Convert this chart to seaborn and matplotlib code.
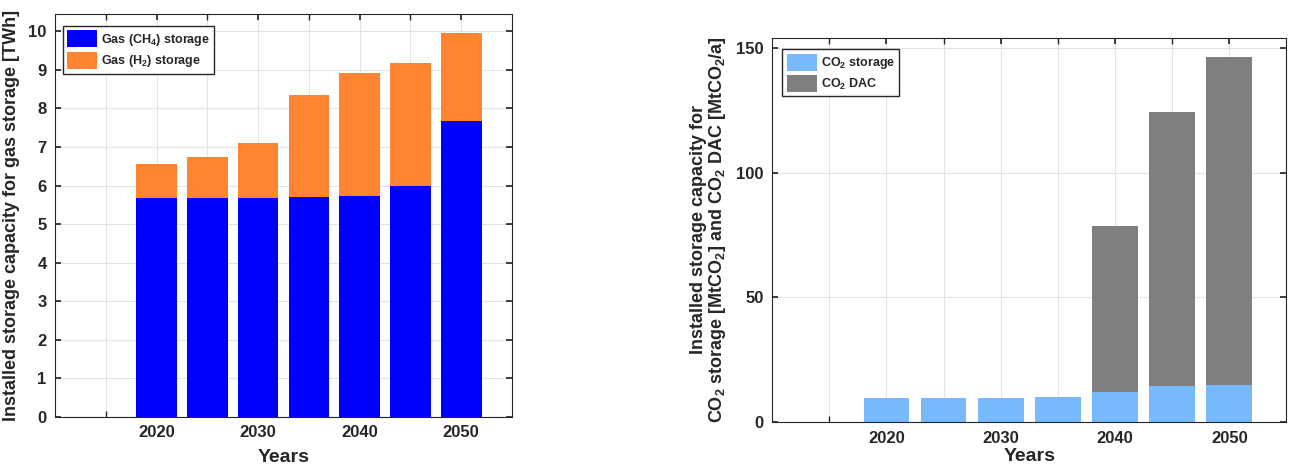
import numpy as np
import pandas as pd
import matplotlib
matplotlib.use('Agg')
import matplotlib.pyplot as plt
import seaborn as sns

# ------------------------------------------------------------
# DATA
# ------------------------------------------------------------
YEARS = [2020, 2025, 2030, 2035, 2040, 2045, 2050]

ch4_storage = [5.68, 5.68, 5.69, 5.71, 5.74, 5.99, 7.68]      # TWh
h2_storage  = [0.88, 1.05, 1.41, 2.63, 3.17, 3.20, 2.28]      # TWh (on top)

co2_storage = [9.6, 9.6, 9.6, 9.9, 12.1, 14.3, 14.8]          # MtCO2
co2_dac     = [0.0, 0.0, 0.0, 0.0, 66.6, 109.9, 131.7]        # MtCO2/a (on top)

XTICKS = [2020, 2030, 2040, 2050]

C_CH4 = '#0000ff'
C_H2  = '#ff8533'
C_CO2 = '#78b9fb'
C_DAC = '#7f7f7f'
TXT   = '#262626'

# ------------------------------------------------------------
# STYLE
# ------------------------------------------------------------
sns.set_theme(style="whitegrid")
plt.rcParams['font.family'] = ['Liberation Sans', 'DejaVu Sans']
plt.rcParams['font.weight'] = 'bold'
plt.rcParams['mathtext.fontset'] = 'custom'
plt.rcParams['mathtext.rm'] = 'Liberation Sans:bold'
plt.rcParams['mathtext.bf'] = 'Liberation Sans:bold'
plt.rcParams['mathtext.default'] = 'bf'

gas = pd.DataFrame({'year': YEARS, 'ch4': ch4_storage,
                    'total': np.add(ch4_storage, h2_storage)})
co2 = pd.DataFrame({'year': YEARS, 'co2': co2_storage,
                    'total': np.add(co2_storage, co2_dac)})

fig = plt.figure(figsize=(12.89, 4.67), dpi=100)
ax1 = fig.add_axes([0.0427, 0.107, 0.3545, 0.863])
ax2 = fig.add_axes([0.599, 0.096, 0.399, 0.823])


def style_axes(ax, ylim, yticks, xpad):
    ax.set_xlim(2010, 2055)
    ax.set_ylim(*ylim)
    ax.set_xticks(XTICKS)
    ax.set_xticks(np.arange(2015, 2055, 10), minor=True)
    ax.set_yticks(yticks)
    ax.set_facecolor('white')
    ax.grid(True, which='major', color='#e3e3e3', linewidth=0.8)
    ax.grid(True, which='minor', axis='x', color='#e3e3e3', linewidth=0.8)
    ax.set_axisbelow(True)
    for sp in ax.spines.values():
        sp.set_visible(True)
        sp.set_color('#262626')
        sp.set_linewidth(0.8)
    ax.tick_params(axis='both', which='major', direction='in', length=4,
                   color='#262626', top=True, right=True, bottom=True, left=True,
                   labelsize=12, labelcolor=TXT, pad=6)
    ax.tick_params(axis='x', which='minor', direction='in', length=4,
                   color='#262626', top=True, bottom=True)
    for lab in ax.get_xticklabels() + ax.get_yticklabels():
        lab.set_fontweight('bold')
    ax.set_xlabel('Years', fontsize=14, fontweight='bold', color=TXT, labelpad=xpad)


def add_legend(ax, anchor, size):
    h, l = ax.get_legend_handles_labels()
    ax.legend(h[::-1], l[::-1], loc='upper left', bbox_to_anchor=anchor,
              fontsize=size, frameon=True, fancybox=False, edgecolor='#262626',
              facecolor='white', framealpha=1, handlelength=2.4, handleheight=1.7,
              borderpad=0.35, labelspacing=0.3, handletextpad=0.3, borderaxespad=0)


bar_kw = dict(native_scale=True, width=0.8, saturation=1, linewidth=0)

# --- Left: gas storage ---
sns.barplot(data=gas, x='year', y='total', color=C_H2, ax=ax1,
            label='Gas (H$_2$) storage', **bar_kw)
sns.barplot(data=gas, x='year', y='ch4', color=C_CH4, ax=ax1,
            label='Gas (CH$_4$) storage', **bar_kw)
style_axes(ax1, (0, 10.45), range(0, 11), 6)
ax1.set_ylabel('Installed storage capacity for gas storage [TWh]',
               fontsize=13, fontweight='bold', color=TXT, labelpad=6)
add_legend(ax1, (0.017, 0.97), 9)

# --- Right: CO2 storage & DAC ---
sns.barplot(data=co2, x='year', y='total', color=C_DAC, ax=ax2,
            label='CO$_2$ DAC', **bar_kw)
sns.barplot(data=co2, x='year', y='co2', color=C_CO2, ax=ax2,
            label='CO$_2$ storage', **bar_kw)
style_axes(ax2, (0, 154), [0, 50, 100, 150], 2)
ax2.set_ylabel('Installed storage capacity for\nCO$_2$ storage [MtCO$_2$] and CO$_2$ DAC [MtCO$_2$/a]',
               fontsize=13, fontweight='bold', color=TXT, labelpad=6,
               linespacing=1.0)
add_legend(ax2, (0.02, 0.97), 9)

plt.savefig('out.png', dpi=100)
plt.close()
